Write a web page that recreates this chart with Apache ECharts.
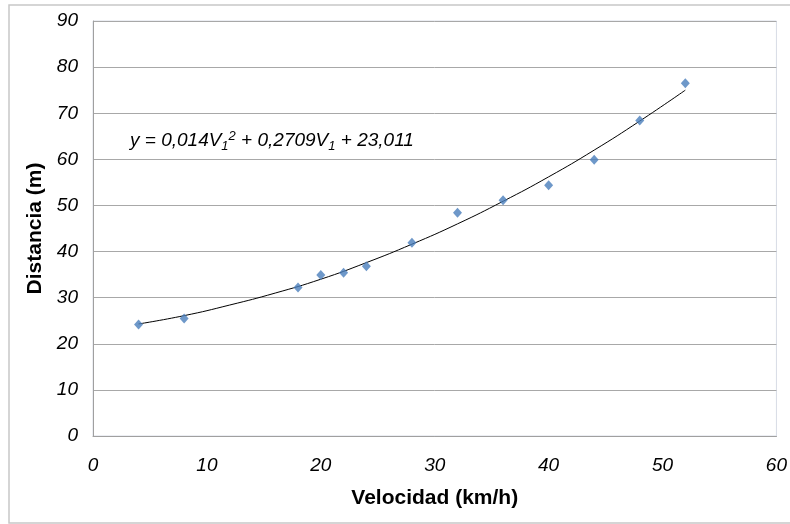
<!DOCTYPE html>
<html>
<head>
<meta charset="utf-8">
<script src="https://cdn.jsdelivr.net/npm/echarts@6/dist/echarts.min.js"></script>
<style>
html,body{margin:0;padding:0;background:#fff;}
#chart{width:790px;height:524px;}
</style>
</head>
<body>
<div id="chart"></div>
<script>
// velocidad (km/h) y distancia (m) medidas
var velocidad = [4, 8, 18, 20, 22, 24, 28, 32, 36, 40, 44, 48, 52];
var distancia = [24.2, 25.5, 32.2, 34.9, 35.4, 36.8, 41.9, 48.4, 51.1, 54.4, 59.9, 68.4, 76.5];

// curva de tendencia
var tendX = [4, 8, 12, 16, 20, 24, 28, 32, 36, 40, 44, 48, 52];
var tendY = [24.3, 26.1, 28.4, 31.0, 34.0, 37.6, 41.6, 46.0, 50.9, 56.2, 62.0, 68.3, 75.0];

var xTicks = [0, 10, 20, 30, 40, 50, 60];
var yTicks = [0, 10, 20, 30, 40, 50, 60, 70, 80, 90];

var puntos = [];
for (var i = 0; i < velocidad.length; i++) {
    puntos.push([velocidad[i], distancia[i]]);
}
var tendencia = [];
for (var j = 0; j < tendX.length; j++) {
    tendencia.push([tendX[j], tendY[j]]);
}

var myChart = echarts.init(document.getElementById('chart'));

var option = {
    animation: false,
    textStyle: {fontFamily: 'Liberation Sans, Arial, sans-serif'},
    graphic: [{
        type: 'rect',
        shape: {x: 9, y: 5, width: 800, height: 518},
        style: {fill: 'none', stroke: '#c8c8c8', lineWidth: 1.5},
        silent: true
    }, {
        type: 'text',
        left: 130,
        top: 130,
        style: {
            text: '{t|y = 0,014V}{s|1}{p|2}{t| + 0,2709V}{s|1}{t| + 23,011}',
            rich: {
                t: {fontSize: 19, fontStyle: 'italic', fill: '#000', fontFamily: 'Liberation Sans'},
                s: {fontSize: 13, fontStyle: 'italic', fill: '#000', fontFamily: 'Liberation Sans', padding: [11, 0, 0, 0]},
                p: {fontSize: 13, fontStyle: 'italic', fill: '#000', fontFamily: 'Liberation Sans', padding: [0, 0, 9, 0]}
            }
        }
    }],
    grid: {
        left: 93, right: 12, top: 21, bottom: 88,
        show: true,
        borderColor: '#d8dce6',
        borderWidth: 1
    },
    xAxis: {
        type: 'value',
        min: xTicks[0],
        max: xTicks[xTicks.length - 1],
        interval: 10,
        name: 'Velocidad (km/h)',
        nameLocation: 'middle',
        nameGap: 52,
        nameTextStyle: {fontSize: 21, fontWeight: 'bold', color: '#000'},
        axisLine: {show: true, lineStyle: {color: '#a0a0a0'}},
        axisTick: {show: false},
        splitLine: {show: false},
        axisLabel: {fontSize: 19, fontStyle: 'italic', color: '#000', margin: 20}
    },
    yAxis: {
        type: 'value',
        min: yTicks[0],
        max: yTicks[yTicks.length - 1],
        interval: 10,
        name: 'Distancia (m)',
        nameLocation: 'middle',
        nameGap: 47,
        nameTextStyle: {fontSize: 21, fontWeight: 'bold', color: '#000'},
        axisLine: {show: true, lineStyle: {color: '#a0a0a0'}},
        axisTick: {show: false},
        splitLine: {show: true, lineStyle: {color: '#a8a8a8', width: 1}},
        axisLabel: {fontSize: 19, fontStyle: 'italic', color: '#000', margin: 15}
    },
    series: [{
        name: 'Tendencia',
        type: 'line',
        data: tendencia,
        smooth: true,
        showSymbol: false,
        lineStyle: {color: '#000', width: 1},
        z: 2
    }, {
        name: 'Datos',
        type: 'scatter',
        data: puntos,
        symbol: 'diamond',
        symbolSize: [9, 10],
        itemStyle: {color: '#4a7ebb'},
        z: 3
    }]
};

myChart.setOption(option);
</script>
</body>
</html>
